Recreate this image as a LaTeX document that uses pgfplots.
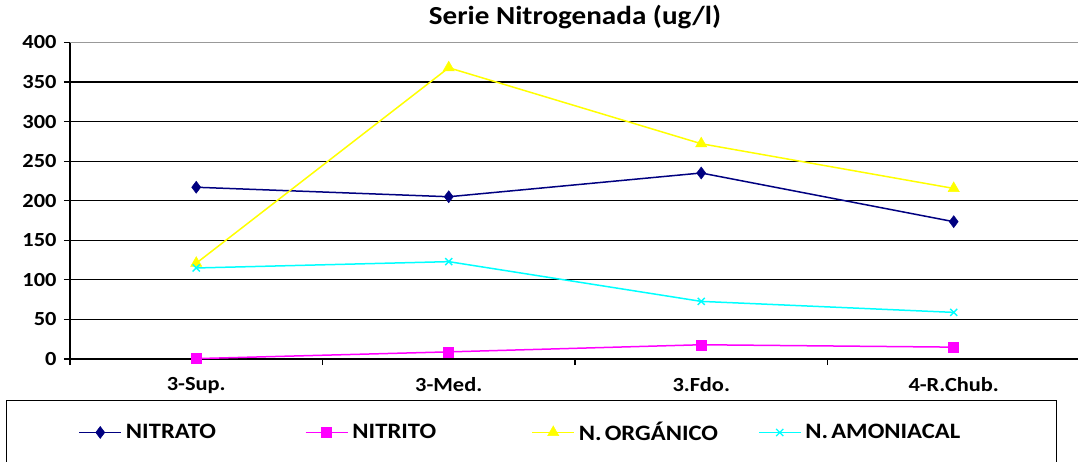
\documentclass[border=0pt]{standalone}
\usepackage{fontspec}
\setmainfont{Carlito}[FakeStretch=1.12]
\usepackage{pgfplots}
\pgfplotsset{compat=1.18}
\definecolor{cNitrato}{RGB}{0,0,128}
\definecolor{cNitrito}{RGB}{255,0,255}
\definecolor{cOrg}{RGB}{255,255,0}
\definecolor{cAmo}{RGB}{0,255,255}
\begin{document}
\begin{tikzpicture}[x=1pt,y=1pt]
\path[use as bounding box] (-70,-102) rectangle (1008,359);
\begin{axis}[
  at={(0,0)}, anchor=south west,
  scale only axis,
  width=1010pt, height=316.6pt,
  xmin=-0.5, xmax=3.5,
  ymin=0, ymax=400,
  ytick={0,50,...,400},
  extra y ticks={400},
  extra y tick labels={},
  extra y tick style={grid style={gray!80,line width=1.4pt},major tick length=0pt},
  xtick={0,1,2,3},
  xticklabels={3-Sup.,3-Med.,3.Fdo.,4-R.Chub.},
  minor xtick={-0.5,0.5,1.5,2.5,3.5},
  major x tick style={draw=none},
  minor x tick style={black,line width=1.2pt},
  minor tick length=6pt,
  ymajorgrids,
  grid style={black,line width=1.2pt},
  axis x line*=bottom,
  axis y line*=left,
  axis line style={black,line width=1.2pt},
  y tick style={black,line width=1.2pt},
  tick align=outside,
  major tick length=6pt,
  tick label style={font=\fontsize{20}{20}\selectfont\bfseries},
  /pgf/number format/assume math mode=true,
  yticklabel style={xshift=-4pt},
  xticklabel style={yshift=-9pt},
  title={\fontsize{26}{26}\selectfont\bfseries Serie Nitrogenada (ug/l)},
  title style={at={(0.5,1)},anchor=south,yshift=4pt},
  clip=false,
  legend columns=4,
  legend style={at={(axis cs:-0.5,0)},anchor=north west,xshift=-64pt,yshift=-41pt,
    draw=black,line width=1pt,
    font=\fontsize{22}{22}\selectfont\bfseries,
    inner xsep=72pt,inner ysep=20pt,
    nodes={text width=177pt,align=left},
    /tikz/every odd column/.append style={column sep=2pt}},
  legend image code/.code={
    \draw[#1,mark repeat=2,mark phase=2] plot coordinates {(0pt,0pt) (21pt,0pt) (42pt,0pt)};},
]
\addplot[color=cNitrato,line width=1.5pt,mark=diamond*,mark size=6pt,mark options={fill=cNitrato,line width=0.5pt}]
  coordinates {(0,217) (1,205) (2,235) (3,173.5)};
\addlegendentry{NITRATO}
\addplot[color=cNitrito,line width=1.5pt,mark=square*,mark size=5pt,mark options={fill=cNitrito,line width=0.5pt}]
  coordinates {(0,0.5) (1,9) (2,18) (3,15)};
\addlegendentry{NITRITO}
\addplot[color=cOrg,line width=1.5pt,mark=triangle*,mark size=6.5pt,mark options={fill=cOrg,line width=0.5pt}]
  coordinates {(0,121) (1,368) (2,272) (3,215.5)};
\addlegendentry{N.\hspace{3pt}ORGÁNICO}
\addplot[color=cAmo,line width=1.5pt,mark=x,mark size=5pt,mark options={line width=1.4pt}]
  coordinates {(0,115) (1,123) (2,72.8) (3,58.9)};
\addlegendentry{N.\hspace{3pt}AMONIACAL}
\end{axis}
\end{tikzpicture}
\end{document}
